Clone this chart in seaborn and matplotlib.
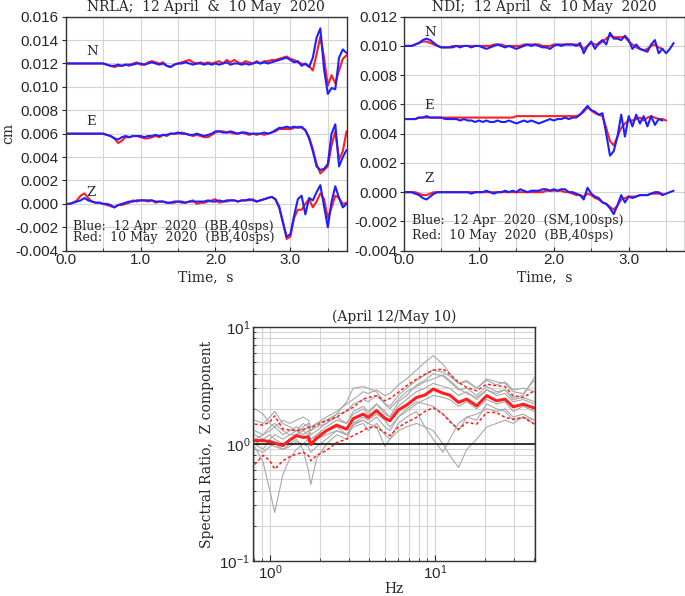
import numpy as np
import matplotlib
matplotlib.use("Agg")
import matplotlib.pyplot as plt
import seaborn as sns
from matplotlib.ticker import MultipleLocator, FormatStrFormatter, LogLocator, NullFormatter

## seismograms: deviation from the trace baseline, in units of 1e-4 cm, sampled every 0.05 s
dt = 0.05
nrla_t = np.round(np.arange(76) * dt, 2)
ndi_t = np.round(np.arange(73) * dt, 2)

nrla_base = {"N": 0.012, "E": 0.006, "Z": 0.0}
ndi_base = {"N": 0.010, "E": 0.005, "Z": 0.0}

nrla_N_red = [0, 0, 0, 0, 0, 0, 0, 0, 0, 0,
              0, -1, -2, -3, -2, -2, -1, -2, 0, 1,
              -1, -1, 1, 2, 1, 0, 1, -2, -3, -1,
              0, 1, 2, 3, 1, 0, 1, 0, 1, 0,
              1, 2, 0, 3, 1, 3, 1, 0, 2, 1,
              0, 2, 0, 2, 2, 3, 3, 4, 5, 6,
              4, 3, 1, 0, -1, -2, -6, 8, 23, 5,
              -19, -10, -17, -6, 4, 7]
nrla_N_blue = [0, 0, 0, 0, 0, 0, 0, 0, 0, 0,
               0, -1, -2, -2, -1, -2, -1, -1, -1, 0,
               0, -1, 0, 1, 0, -1, 0, -2, -3, -1,
               0, 0, 1, 0, -1, 0, 0, -1, 0, -1,
               0, -1, 0, 1, -1, 0, 0, -1, 0, -1,
               0, 1, 0, 1, 0, 1, 2, 3, 4, 5,
               3, 1, 2, -2, 0, -3, 5, 22, 30, -5,
               -26, -21, -22, 5, 12, 9]
nrla_E_red = [0, 0, 0, 0, 0, 0, 0, 0, 0, 0,
              0, -1, -2, -4, -8, -6, -3, -3, -2, -2,
              -3, -4, -4, -3, -2, -3, -1, -2, 0, 0,
              0, 1, 0, -1, -2, -1, -2, -3, -3, -1,
              1, 2, 2, 1, 1, 0, 0, 1, 0, -1,
              0, -1, 0, -1, 0, 1, 2, 4, 4, 4,
              4, 5, 6, 5, 3, -3, -13, -26, -34, -31,
              -28, -10, 2, -22, -15, 2]
nrla_E_blue = [0, 0, 0, 0, 0, 0, 0, 0, 0, 0,
               0, -1, -2, -4, -5, -3, -2, -3, -2, -2,
               -2, -3, -2, -2, -1, -2, -1, -1, 0, 0,
               1, 0, 0, -1, -1, 0, -1, -2, -1, 0,
               2, 2, 1, 1, 2, 1, 0, 1, 1, 0,
               0, 0, 0, 1, 0, 1, 3, 5, 5, 6,
               5, 6, 5, 6, 3, -4, -15, -28, -31, -30,
               -26, 0, 8, -28, -20, -14]
nrla_Z_red = [0, 0, 1, 3, 7, 9, 5, 2, 1, 1,
              0, -1, -2, -3, -1, -1, 0, 1, 3, 2,
              3, 3, 2, 3, 1, 2, 2, 1, 1, 1,
              2, 1, 1, 2, 3, 0, 1, 1, 2, 3,
              4, 1, 2, 2, 3, 3, 2, 3, 3, 3,
              4, 2, 3, 4, 5, 6, 4, -2, -15, -30,
              -28, -12, -5, -5, 0, 4, -3, 2, 9, 4,
              -12, -3, 7, 5, 0, 1]
nrla_Z_blue = [0, 0, 1, 2, 3, 5, 3, 2, 1, 1,
               0, 0, -1, -3, -1, 0, 1, 2, 2, 3,
               3, 3, 3, 3, 2, 2, 2, 1, 1, 2,
               2, 2, 1, 2, 2, 2, 2, 2, 3, 2,
               2, 3, 2, 3, 3, 3, 2, 3, 3, 4,
               3, 2, 3, 4, 5, 6, 4, -3, -16, -28,
               -26, -10, 4, 7, -9, 5, 3, 10, 16, -2,
               -20, 2, 15, 5, -3, 0]

ndi_N_red = [0, 0, 0, 1, 2, 3, 3, 2, 1, 0,
             -1, -1, -1, 0, 0, 0, 0, 0, 0, 0,
             0, 0, 0, 0, 1, 1, 1, 0, 0, 0,
             0, 0, 1, 1, 1, 1, 1, 0, 0, 0,
             1, 1, 1, 1, 1, 1, 1, 0, -2, 0,
             2, 1, 1, 3, 5, 7, 6, 6, 6, 6,
             3, 1, -1, -2, -3, -2, 0, 1, -1, -2]
ndi_N_blue = [0, 0, 0, 1, 2, 4, 5, 4, 2, 0,
              -1, -1, -1, -1, 0, -1, 0, 0, -1, 0,
              0, -1, -2, -1, 0, 1, 0, -1, 0, -1,
              -2, -1, 0, 1, 0, 1, 0, -1, -1, -2,
              0, 1, 0, 1, 1, 1, 0, 2, -5, 0,
              3, -2, 2, 4, 1, 9, 5, 5, 4, 7,
              4, -2, 1, -2, -3, -4, 1, 4, -5, -2,
              -5, -2, 2]
ndi_E_red = [0, 0, 0, 0, 1, 1, 1, 1, 1, 1,
             1, 1, 1, 1, 1, 1, 1, 1, 1, 1,
             1, 1, 1, 1, 1, 1, 1, 1, 1, 1,
             2, 2, 2, 2, 2, 2, 2, 2, 2, 2,
             2, 2, 2, 2, 2, 2, 2, 3, 5, 8,
             6, 4, 3, 2, -6, -15, -18, -12, -6, -3,
             -1, -1, 0, 1, -1, 1, 2, 1, 0, 0,
             -1]
ndi_E_blue = [0, 0, 0, 0, 1, 1, 2, 1, 1, 1,
              1, 0, 0, 0, 0, -1, 0, -1, -1, -2,
              -1, -2, -1, -2, -2, -1, -2, -2, -1, -2,
              -3, -2, -1, -2, -1, -2, -3, -2, -1, 0,
              -1, 0, 0, 1, 0, 1, 1, 3, 6, 9,
              6, 5, 3, 4, -10, -25, -22, -12, 3, -12,
              2, -5, 3, -3, 2, -5, 2, -4, 0, -1]
ndi_Z_red = [0, 0, 0, 0, -1, -2, -2, -1, 0, 0,
             0, 0, 0, 0, 0, 0, 0, 0, 0, 0,
             0, 0, 0, 0, 0, 0, 0, 0, 0, 0,
             0, 0, 0, 0, 0, 0, 0, 0, 1, 1,
             1, 1, 1, 0, 0, -1, -2, -2, -3, -1,
             -2, -4, -5, -7, -8, -10, -12, -9, -5, -4,
             -3, -3, -3, -2, -2, -2, -1, -1, -1, -1]
ndi_Z_blue = [0, 0, 0, -1, -2, -4, -5, -3, -1, 0,
              0, 0, 0, 0, 0, 0, 0, 0, -1, 0,
              0, 0, 1, 0, -1, 0, 0, 1, 0, 1,
              0, 2, 1, 0, 1, 1, 1, 2, 2, 1,
              2, 1, 2, 2, 0, 0, -1, -2, -5, 3,
              -1, -3, -4, -7, -8, -11, -15, -9, -2, -7,
              -3, -4, -3, -2, -2, -2, -1, 0, 0, -2,
              -1, 0, 1]

## spectral ratio (April 12 / May 10), Z component
freq = [0.81, 0.91, 1.0, 1.07, 1.2, 1.32, 1.45, 1.59, 1.71, 1.77, 1.92, 2.2, 2.54, 2.92,
        3.2, 3.68, 3.94, 4.43, 4.98, 5.34, 6.0, 6.73, 7.74, 8.7, 9.77, 11.2, 12.3, 13.9,
        15.6, 17.9, 20.6, 23.6, 26.6, 29.8, 34.3, 40.0]
ratio_mean = [1.07, 1.07, 1.05, 1.02, 0.97, 1.08, 1.18, 1.14, 1.15, 0.99, 1.12, 1.30, 1.45, 1.34,
              1.65, 1.80, 1.69, 1.93, 1.66, 1.58, 1.95, 2.15, 2.50, 2.62, 2.95, 2.72, 2.62, 2.27,
              2.42, 2.12, 2.59, 2.34, 2.42, 2.08, 2.19, 2.03]
ratio_upper = [1.48, 1.45, 1.55, 1.74, 1.34, 1.32, 1.30, 1.33, 1.39, 1.38, 1.45, 1.58, 1.70, 1.93,
               2.06, 2.42, 2.50, 2.59, 2.34, 2.45, 2.76, 3.15, 3.59, 3.95, 4.28, 4.37, 3.96, 3.36,
               3.04, 2.85, 3.25, 3.15, 3.10, 2.59, 2.50, 2.85]
ratio_lower = [0.67, 0.80, 0.72, 0.61, 0.72, 0.78, 0.82, 0.85, 0.80, 0.72, 0.80, 0.88, 1.03, 1.10,
               1.18, 1.30, 1.39, 1.39, 1.25, 1.18, 1.39, 1.53, 1.69, 1.90, 2.04, 1.80, 1.55, 1.34,
               1.53, 1.48, 1.86, 1.86, 1.69, 1.63, 1.69, 1.48]
ratio_events = [
    [0.95, 0.7, 0.4, 0.26, 0.55, 0.75, 0.9, 1.0, 1.1, 1.0, 1.2, 1.4, 1.6, 1.5, 1.9, 2.1, 1.9, 2.2,
     1.8, 1.7, 2.3, 2.6, 3.2, 3.5, 4.0, 3.8, 3.4, 2.9, 3.0, 2.6, 3.1, 2.8, 2.9, 2.4, 2.5, 2.3],
    [1.2, 1.1, 1.0, 0.95, 0.9, 1.0, 1.1, 0.9, 0.6, 0.45, 0.75, 1.0, 1.2, 1.1, 1.5, 1.6, 1.5, 1.7,
     1.4, 1.3, 1.7, 1.9, 2.2, 2.4, 2.6, 2.5, 2.4, 2.1, 2.3, 2.0, 2.4, 2.2, 2.3, 1.9, 2.1, 1.9],
    [1.0, 1.1, 1.2, 1.1, 1.0, 1.1, 1.2, 1.3, 1.2, 1.0, 1.1, 1.2, 1.3, 1.2, 1.4, 1.5, 1.3, 1.5,
     1.2, 1.1, 1.3, 1.4, 1.5, 1.4, 1.3, 1.0, 0.8, 0.63, 0.9, 1.1, 1.4, 1.5, 1.6, 1.5, 1.7, 1.6],
    [0.9, 0.85, 0.95, 1.0, 0.9, 0.95, 1.05, 1.0, 0.95, 0.85, 0.95, 1.1, 1.3, 1.2, 1.45, 1.6, 1.5, 1.4,
     0.95, 1.1, 1.5, 1.7, 1.9, 1.4, 1.1, 0.85, 1.1, 1.5, 1.7, 1.8, 2.0, 1.9, 2.0, 1.7, 1.8, 1.6],
    [1.6, 1.5, 1.7, 1.9, 1.5, 1.4, 1.3, 1.5, 1.4, 1.3, 1.5, 1.7, 1.9, 2.2, 2.4, 2.8, 2.7, 2.9,
     2.6, 2.7, 3.2, 3.6, 4.3, 5.0, 5.7, 4.8, 4.0, 3.3, 3.4, 3.0, 3.6, 3.4, 3.3, 2.8, 2.7, 3.5],
    [1.3, 1.2, 1.4, 1.5, 1.3, 1.2, 1.2, 1.4, 1.5, 1.3, 1.4, 1.5, 1.8, 2.3, 3.0, 3.1, 3.0, 2.8,
     2.2, 2.0, 2.4, 2.8, 3.1, 3.4, 3.6, 3.9, 3.5, 3.0, 2.7, 2.5, 2.9, 2.7, 2.9, 2.5, 2.6, 3.7],
    [1.1, 1.2, 1.3, 1.4, 1.2, 1.3, 1.4, 1.3, 1.4, 1.2, 1.3, 1.5, 1.7, 1.5, 1.8, 2.0, 1.8, 2.2,
     1.9, 1.7, 2.1, 2.4, 2.8, 3.0, 3.3, 3.1, 3.0, 2.6, 2.8, 2.4, 2.9, 2.6, 2.7, 2.3, 2.4, 2.2],
    [1.0, 0.9, 1.1, 1.2, 1.1, 1.2, 1.3, 1.2, 1.3, 1.1, 1.2, 1.3, 1.4, 1.2, 1.5, 1.7, 1.6, 1.8,
     1.6, 1.4, 1.7, 2.0, 2.3, 2.2, 2.1, 1.8, 1.6, 1.3, 1.7, 1.6, 2.2, 2.0, 1.9, 1.6, 1.7, 1.5],
    [2.0, 1.8, 1.5, 1.4, 1.6, 1.5, 1.6, 1.7, 1.6, 1.4, 1.5, 1.6, 1.8, 1.9, 2.2, 2.4, 2.3, 2.6,
     2.2, 2.1, 2.6, 3.0, 3.5, 3.9, 4.3, 4.1, 3.8, 3.3, 3.5, 3.0, 3.5, 3.2, 3.4, 2.9, 3.0, 2.8],
]

RED = "#ff1f1f"
BLUE = "#1f1fff"
GRID = "#d4d4d4"
SERIF = ["DejaVu Serif"]

sns.set_style("ticks")
plt.rcParams["font.family"] = ["Liberation Sans", "DejaVu Sans"]
plt.rcParams["axes.linewidth"] = 1.0

fig = plt.figure(figsize=(6.85, 5.96), dpi=100)
ax1 = fig.add_axes([0.0959, 0.5794, 0.410, 0.3926])
ax2 = fig.add_axes([0.5898, 0.5794, 0.410, 0.3926])
ax3 = fig.add_axes([0.3693, 0.0587, 0.4117, 0.3926])


def seis_panel(ax, t, base, traces, ylim, title, legend):
    for comp, red, blue in traces:
        sns.lineplot(x=t[:len(red)], y=base[comp] + np.array(red) * 1e-4, color=RED, lw=1.5, ax=ax)
        sns.lineplot(x=t[:len(blue)], y=base[comp] + np.array(blue) * 1e-4, color=BLUE, lw=1.5, ax=ax)
        ax.text(0.27, base[comp] + 0.0007, comp, family=SERIF, fontsize=9.5)
    ax.set_xlim(0, 3.75)
    ax.set_ylim(*ylim)
    ax.xaxis.set_major_locator(MultipleLocator(1.0))
    ax.xaxis.set_minor_locator(MultipleLocator(0.5))
    ax.yaxis.set_major_locator(MultipleLocator(0.002))
    ax.xaxis.set_major_formatter(FormatStrFormatter("%.1f"))
    ax.yaxis.set_major_formatter(FormatStrFormatter("%.3f"))
    ax.grid(True, which="both", axis="x", color=GRID, lw=0.8)
    ax.grid(True, which="major", axis="y", color=GRID, lw=0.8)
    ax.tick_params(labelsize=11, length=3, direction="out", pad=2)
    ax.tick_params(axis="x", which="both", direction="in")
    ax.set_xlabel("Time,  s", family=SERIF, fontsize=10, labelpad=2)
    ax.set_title(title, family=SERIF, fontsize=10, pad=4)
    ax.text(0.1, ylim[0] + 0.0018, legend[0], family=SERIF, fontsize=9)
    ax.text(0.1, ylim[0] + 0.0008, legend[1], family=SERIF, fontsize=9)
    for s in ax.spines.values():
        s.set_visible(True)
        s.set_color("#333333")


seis_panel(ax1, nrla_t, nrla_base,
           [("N", nrla_N_red, nrla_N_blue), ("E", nrla_E_red, nrla_E_blue), ("Z", nrla_Z_red, nrla_Z_blue)],
           (-0.004, 0.016), "NRLA;  12 April  &  10 May  2020",
           ("Blue:  12 Apr  2020  (BB,40sps)", "Red:  10 May  2020  (BB,40sps)"))
ax1.set_ylabel("cm", family=SERIF, fontsize=10)
ax1.yaxis.set_label_coords(-0.18, 0.5)

seis_panel(ax2, ndi_t, ndi_base,
           [("N", ndi_N_red, ndi_N_blue), ("E", ndi_E_red, ndi_E_blue), ("Z", ndi_Z_red, ndi_Z_blue)],
           (-0.004, 0.012), "NDI;  12 April  &  10 May  2020",
           ("Blue:  12 Apr  2020  (SM,100sps)", "Red:  10 May  2020  (BB,40sps)"))

# spectral ratio panel
for ev in ratio_events:
    sns.lineplot(x=freq, y=ev, color="#a8a8a8", lw=0.8, ax=ax3)
ax3.axhline(1.0, color="#222222", lw=1.3)
sns.lineplot(x=freq, y=ratio_upper, color=RED, lw=1.1, ax=ax3, linestyle=(0, (2, 1.5)))
sns.lineplot(x=freq, y=ratio_lower, color=RED, lw=1.1, ax=ax3, linestyle=(0, (2, 1.5)))
sns.lineplot(x=freq, y=ratio_mean, color=RED, lw=2.2, ax=ax3)
ax3.set_xscale("log")
ax3.set_yscale("log")
ax3.set_xlim(0.79, 40.4)
ax3.set_ylim(0.1, 10)
ax3.xaxis.set_minor_locator(LogLocator(base=10, subs=np.arange(2, 10)))
ax3.yaxis.set_minor_locator(LogLocator(base=10, subs=np.arange(2, 10)))
ax3.xaxis.set_minor_formatter(NullFormatter())
ax3.yaxis.set_minor_formatter(NullFormatter())
ax3.grid(True, which="both", color=GRID, lw=0.8)
ax3.tick_params(labelsize=11, length=4, direction="in", pad=2)
ax3.tick_params(which="minor", length=2.5, direction="in")
ax3.set_xlabel("Hz", family=SERIF, fontsize=10, labelpad=0)
ax3.set_ylabel("Spectral Ratio,  Z component", family=SERIF, fontsize=10, labelpad=4)
ax3.set_title("(April 12/May 10)", family=SERIF, fontsize=10, pad=4)
for s in ax3.spines.values():
    s.set_visible(True)
    s.set_color("#333333")

fig.savefig("out.png", dpi=100)
